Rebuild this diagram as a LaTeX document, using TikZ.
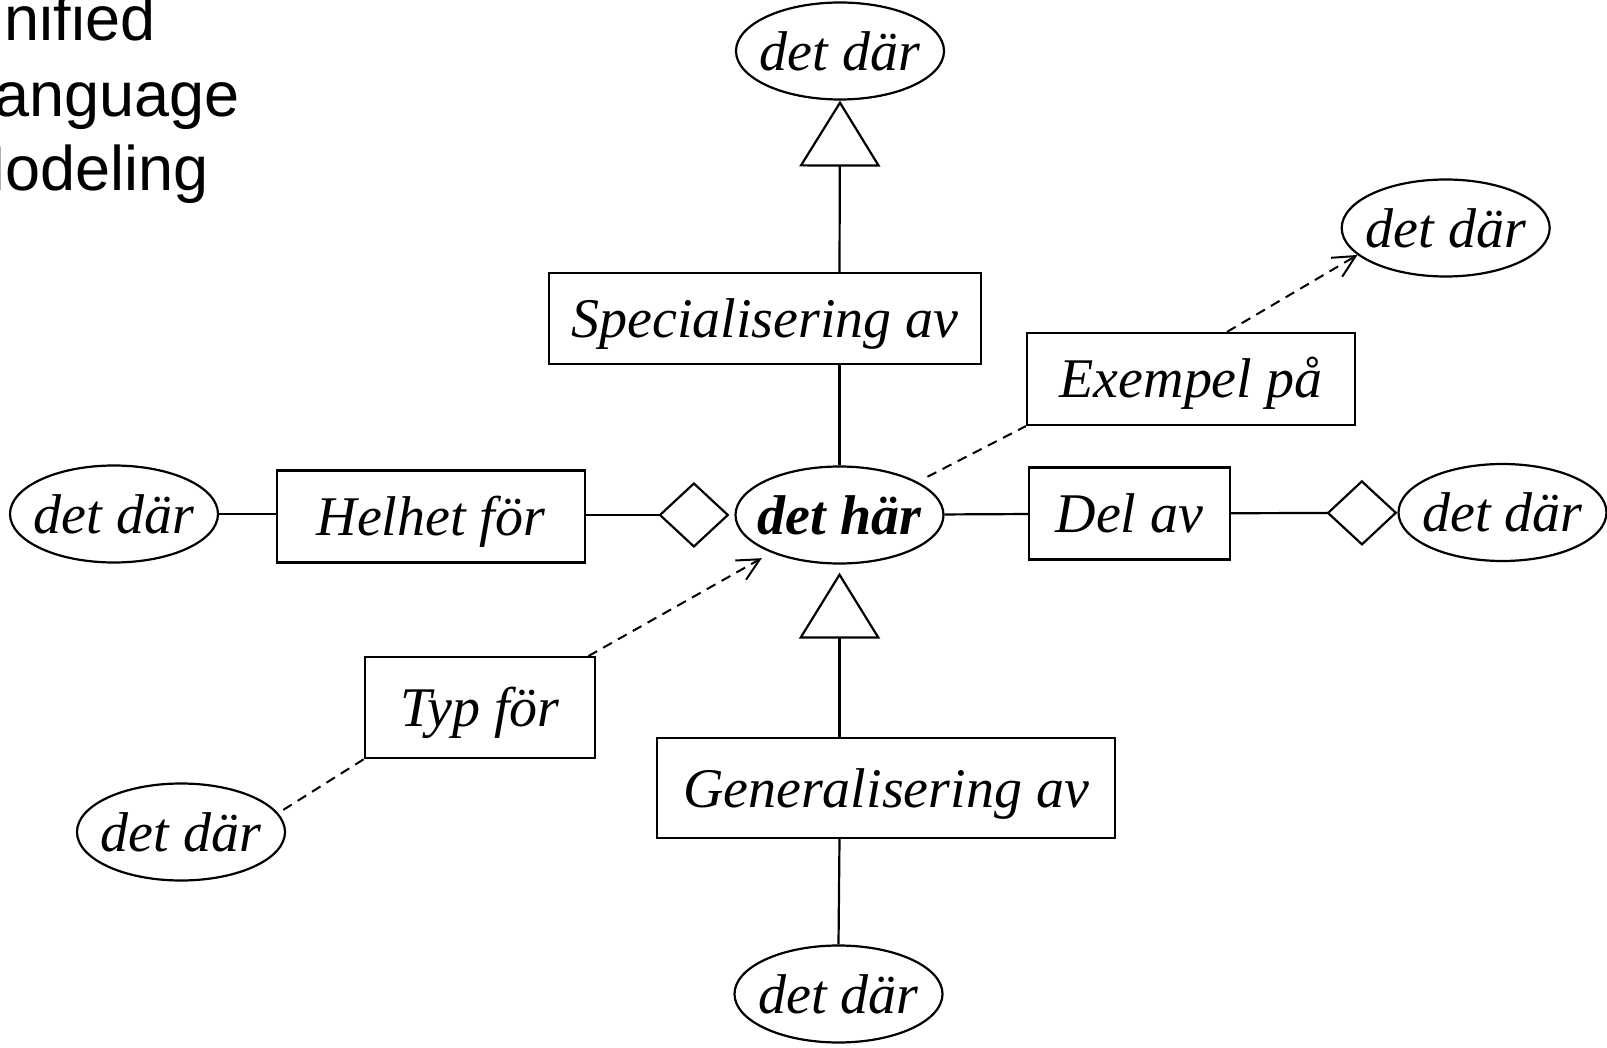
\documentclass[tikz,border=0pt]{standalone}
\usepackage{fontspec}
\setmainfont{Liberation Serif}
\newfontfamily\titlefont{Liberation Sans}
\usetikzlibrary{shapes.geometric,arrows.meta}

\begin{document}
\begin{tikzpicture}[x=1pt,y=-1pt,
  thing/.style={ellipse, draw, line width=2.2pt, minimum width=208pt, minimum height=97pt, inner ysep=0pt, inner xsep=-40pt, font=\fontsize{56}{60}\selectfont\itshape},
  rel/.style={rectangle, draw, line width=2.2pt, inner sep=0pt, text height=46pt, text depth=8pt, font=\fontsize{56}{60}\selectfont\itshape},
  link/.style={line width=2.2pt},
  genarrow/.style={link, -{Triangle[open, length=66pt, width=81pt]}},
  wholearrow/.style={link, -{Diamond[open, length=71pt, width=66pt]}},
  inst/.style={line width=2pt, dash pattern=on 10pt off 7pt},
  instarrow/.style={inst, -{Straight Barb[length=22pt, width=22pt]}},
  title/.style={anchor=base west, inner sep=0pt, font=\titlefont\fontsize{63}{63}\selectfont}
]
\useasboundingbox (0,0) rectangle (1607,1048);
\clip (0,0) rectangle (1607,1048);

% title, cut off at the left edge
\node[title] (t1) at (-41,40.5) {Unified};
\node[title] (t2) at (-41,117) {Language};
\node[title] (t3) at (-47,191) {Modeling};

% the things
\node[thing, font=\fontsize{56}{60}\selectfont\bfseries\itshape] (dh) at (839.5,515) {det här};
\node[thing] (top) at (840,51) {det där};
\node[thing] (exdd) at (1445.7,228) {det där};
\node[thing] (ll) at (114,514) {det där};
\node[thing] (rr) at (1502.5,512.5) {det där};
\node[thing] (bl) at (181,832) {det där};
\node[thing] (bot) at (838.5,994) {det där};

% the relations
\node[rel, minimum width=432pt, minimum height=91pt] (spec) at (765,318.5) {Specialisering av};
\node[rel, minimum width=328pt, minimum height=92pt] (ex) at (1191,379) {Exempel på};
\node[rel, minimum width=201pt, minimum height=92pt] (del) at (1129.5,513.5) {Del av};
\node[rel, minimum width=308.5pt, minimum height=92pt] (hel) at (431,516.5) {Helhet för};
\node[rel, minimum width=230.5pt, minimum height=101pt] (typ) at (480,707.7) {Typ för};
\node[rel, minimum width=458pt, minimum height=100pt] (gen) at (886,788) {Generalisering av};

\draw[genarrow] (spec.north -| dh.center) -- (top.south);
\draw[link] (dh.north) -- (dh.north |- spec.south);
\draw[genarrow, shorten >=8pt] (gen.north -| dh.center) -- (dh.south);
\draw[link] (gen.south -| dh.center) -- (bot.north);
\draw[link] (ll.east) -- (ll.east -| hel.west);
\draw[wholearrow, shorten >=5pt] (hel.east |- dh.center) -- (dh.west);
\draw[link] (dh) -- (del);
\draw[wholearrow] (del) -- (rr);
\draw[inst, shorten <=11pt] (dh.23) -- (ex.south west);
\draw[instarrow] ([xshift=36pt]ex.north) -- (exdd.197);
\draw[instarrow, shorten >=11pt] ([xshift=-8pt]typ.north east) -- (dh.209);
\draw[inst] (typ.south west) -- (bl.11);
\end{tikzpicture}
\end{document}
